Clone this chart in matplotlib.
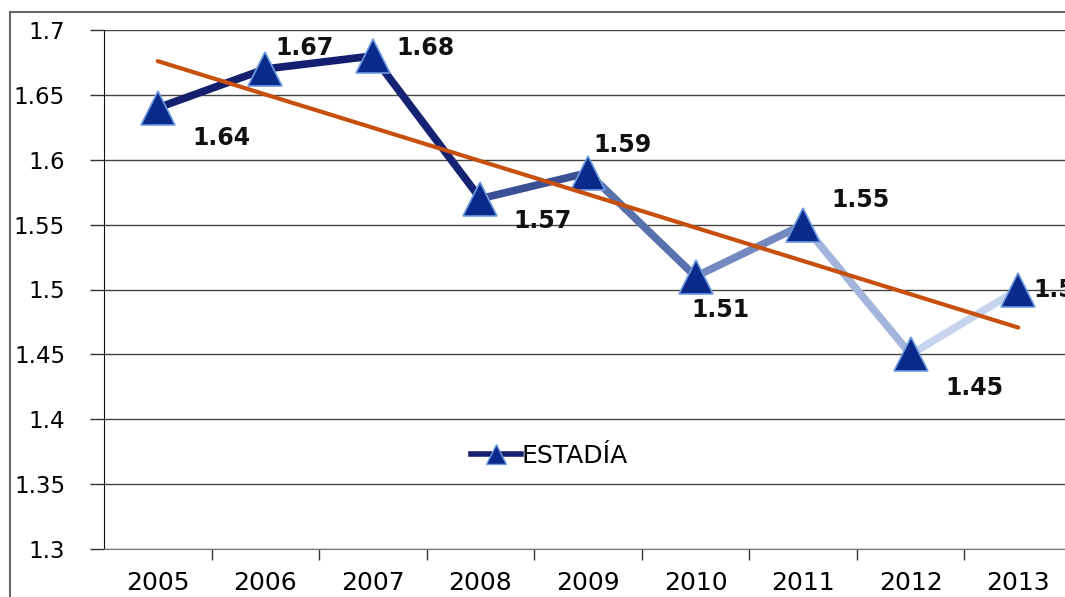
import numpy as np
import matplotlib.pyplot as plt
from matplotlib.collections import LineCollection
from matplotlib.patches import Rectangle
from matplotlib.lines import Line2D

years = ['2005', '2006', '2007', '2008', '2009', '2010', '2011', '2012', '2013']
estadia = [1.64, 1.67, 1.68, 1.57, 1.59, 1.51, 1.55, 1.45, 1.50]
seg_colors = ['#14206e', '#141f70', '#162374', '#3a4f95', '#5870ab',
              '#7389c0', '#a3b5dc', '#c6d4ee']
# label offsets in points (dx, dy)
label_off = [(25, -22), (7, 15), (17, 6), (24, -16), (4, 20),
             (-3, -24), (20, 18), (25, -24), (11, 0)]

fig = plt.figure(figsize=(10.65, 5.97), dpi=100)
ax = fig.add_axes([104 / 1065, 48 / 597, 968 / 1065, 519 / 597])

x = np.arange(len(years))
pts = np.column_stack([x, estadia])
segs = np.stack([pts[:-1], pts[1:]], axis=1)
lc = LineCollection(segs, colors=seg_colors, linewidths=5.5, capstyle='round', zorder=3)
ax.add_collection(lc)

ax.plot(x, estadia, ls='none', marker='^', ms=25, mfc='#0a2a8a',
        mec='#6e9be0', mew=1.2, zorder=4)

# linear trend
k, b = np.polyfit(x, estadia, 1)
ax.plot(x, k * x + b, color='#c8500e', lw=3, solid_capstyle='round', zorder=5)

for xi, v, (dx, dy) in zip(x, estadia, label_off):
    txt = '{:.2f}'.format(v).rstrip('0') if v == 1.5 else '{:.2f}'.format(v)
    ax.annotate(txt, (xi, v), xytext=(dx, dy), textcoords='offset points',
                fontsize=17, fontweight='bold', color='#111111',
                ha='left', va='center', zorder=6, annotation_clip=False)

ax.set_xlim(-0.5, 8.5)
ax.set_ylim(1.3, 1.7)
ax.set_yticks(np.arange(1.3, 1.701, 0.05))
ax.set_yticklabels(['1.3', '1.35', '1.4', '1.45', '1.5', '1.55', '1.6', '1.65', '1.7'])
ax.yaxis.grid(True, color='#444444', lw=1)
ax.set_axisbelow(True)

ax.set_xticks(x)
ax.set_xticklabels(years)
ax.set_xticks(np.arange(0.5, 8.5, 1), minor=True)
ax.tick_params(axis='x', which='major', length=0, pad=16, labelsize=18)
ax.tick_params(axis='x', which='minor', length=8, width=1, color='#333333')
ax.tick_params(axis='y', length=10, width=1, color='#333333', labelsize=16.5, pad=18)

for s in ['top', 'right']:
    ax.spines[s].set_visible(False)
ax.spines['left'].set_color('#111111')
ax.spines['bottom'].set_color('#777777')

handle = Line2D([], [], color='#14206e', lw=4, marker='^', ms=15,
                mfc='#0a2a8a', mec='#6e9be0')
ax.legend([handle], ['ESTADÍA'], loc='center', bbox_to_anchor=(0.46, 0.18),
          frameon=False, fontsize=18, handlelength=2.0, handletextpad=0.05)

fig.patches.append(Rectangle((10 / 1065, -0.1), 1.2, 1 - 12 / 597 + 0.1,
                             transform=fig.transFigure, fill=False,
                             ec='#666666', lw=1.5, zorder=0))

fig.savefig('out.png', dpi=100)
